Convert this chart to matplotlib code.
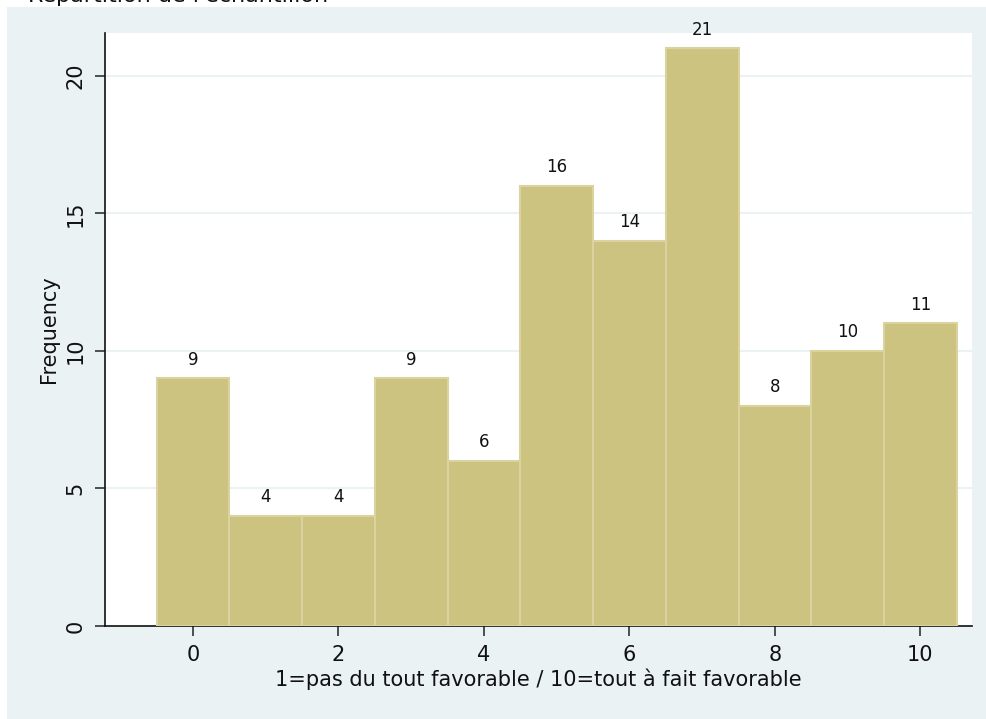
import matplotlib
matplotlib.use("Agg")
import matplotlib.pyplot as plt
from matplotlib.patches import Rectangle

plt.rcParams["font.family"] = ["DejaVu Sans"]

scores = [0, 1, 2, 3, 4, 5, 6, 7, 8, 9, 10]
counts = [9, 4, 4, 9, 6, 16, 14, 21, 8, 10, 11]
x_ticks = [0, 2, 4, 6, 8, 10]
y_ticks = [0, 5, 10, 15, 20]
x_label = "1=pas du tout favorable / 10=tout à fait favorable"
y_label = "Frequency"
title = "Répartition de l'échantillon"

BG = "#EAF2F3"
BAR = "#CCC381"
EDGE = "#DAD3A0"
INK = "#111111"

fig = plt.figure(figsize=(9.86, 7.19), dpi=100)
# outer graph region (Stata-like)
fig.patches.append(Rectangle((7 / 986, 0), 979 / 986, 712 / 719,
                             transform=fig.transFigure, facecolor=BG,
                             edgecolor="none", zorder=-10))
# title is cut off by the top edge in the reference
fig.text(28 / 986, 1 - 1.5 / 719, title, ha="left", va="baseline",
         fontsize=16, color=INK)

ax = fig.add_axes([105 / 986, 1 - 626 / 719, 867 / 986, 593 / 719])
ax.set_facecolor("white")
ax.bar(scores, counts, width=1.0, color=BAR, edgecolor=EDGE, linewidth=1.5, zorder=3)
for x, c in zip(scores, counts):
    ax.text(x, c + 0.35, str(c), ha="center", va="bottom", fontsize=12, color=INK,
            clip_on=False)

ax.set_xlim(-1.21, 10.71)
ax.set_ylim(0, 21.56)
ax.set_xticks(x_ticks)
ax.set_yticks(y_ticks)
ax.set_yticklabels([str(v) for v in y_ticks], rotation=90, va="center")
ax.grid(axis="y", color=BG, linewidth=1.5, zorder=0)
ax.tick_params(axis="both", labelsize=15, length=7, width=1.2, color="#333333",
               labelcolor=INK)
ax.tick_params(axis="x", pad=7)
ax.tick_params(axis="y", pad=7)
for s in ["top", "right"]:
    ax.spines[s].set_visible(False)
for s in ["left", "bottom"]:
    ax.spines[s].set_color(INK)
    ax.spines[s].set_linewidth(1.2)
ax.set_xlabel(x_label, fontsize=15, color=INK, labelpad=2)
ax.set_ylabel(y_label, fontsize=15, color=INK, labelpad=5)

fig.savefig("out.png", dpi=100, facecolor="white")
plt.close(fig)
